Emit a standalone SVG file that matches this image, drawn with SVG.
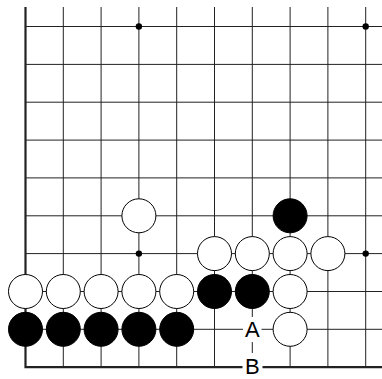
<svg xmlns="http://www.w3.org/2000/svg" width="382" height="379" viewBox="0 0 382 379">
<style>
.g{stroke:#222;stroke-width:1;fill:none}
.e{stroke:#222;stroke-width:2.2;fill:none}
.w{fill:#fff;stroke:#000;stroke-width:1}
.b{fill:#000;stroke:#000;stroke-width:1}
.h{fill:#000}
.lbl{font-family:"Liberation Sans",Arial,sans-serif;font-size:22px;text-anchor:middle;fill:#000}
</style>
<rect width="382" height="379" fill="#fff"/>
<g id="grid">
<path class="g" d="M63.3 7V367M101.1 7V367M138.9 7V367M176.7 7V367M214.5 7V367M252.3 7V367M290.1 7V367M327.9 7V367M365.7 7V367"/>
<path class="g" d="M25.5 26.5H382M25.5 64.4H382M25.5 102.2H382M25.5 140.1H382M25.5 177.9H382M25.5 215.8H382M25.5 253.6H382M25.5 291.5H382M25.5 329.3H382"/>
<path class="e" d="M25.5 7V367.2H382"/>
<circle class="h" cx="138.9" cy="26.5" r="3.2"/>
<circle class="h" cx="365.7" cy="26.5" r="3.2"/>
<circle class="h" cx="138.9" cy="253.6" r="3.2"/>
<circle class="h" cx="365.7" cy="253.6" r="3.2"/>
</g>
<g id="stones">
<circle id="w1" class="w" cx="138.9" cy="215.8" r="17"/>
<circle id="b1" class="b" cx="290.1" cy="215.8" r="17"/>
<circle id="w2" class="w" cx="214.5" cy="253.6" r="17"/>
<circle id="w3" class="w" cx="252.3" cy="253.6" r="17"/>
<circle id="w4" class="w" cx="290.1" cy="253.6" r="17"/>
<circle id="w5" class="w" cx="327.9" cy="253.6" r="17"/>
<circle id="w6" class="w" cx="25.5" cy="291.5" r="17"/>
<circle id="w7" class="w" cx="63.3" cy="291.5" r="17"/>
<circle id="w8" class="w" cx="101.1" cy="291.5" r="17"/>
<circle id="w9" class="w" cx="138.9" cy="291.5" r="17"/>
<circle id="w10" class="w" cx="176.7" cy="291.5" r="17"/>
<circle id="b2" class="b" cx="214.5" cy="291.5" r="17"/>
<circle id="b3" class="b" cx="252.3" cy="291.5" r="17"/>
<circle id="w11" class="w" cx="290.1" cy="291.5" r="17"/>
<circle id="b4" class="b" cx="25.5" cy="329.3" r="17"/>
<circle id="b5" class="b" cx="63.3" cy="329.3" r="17"/>
<circle id="b6" class="b" cx="101.1" cy="329.3" r="17"/>
<circle id="b7" class="b" cx="138.9" cy="329.3" r="17"/>
<circle id="b8" class="b" cx="176.7" cy="329.3" r="17"/>
<circle id="w12" class="w" cx="290.1" cy="329.3" r="17"/>
</g>
<g id="labelA">
<rect x="243" y="317" width="18.5" height="25" fill="#fff"/>
<text class="lbl" x="252.3" y="337.2">A</text>
</g>
<g id="labelB">
<rect x="242.5" y="353" width="20" height="26" fill="#fff"/>
<text class="lbl" x="252.3" y="373.5">B</text>
</g>
</svg>
